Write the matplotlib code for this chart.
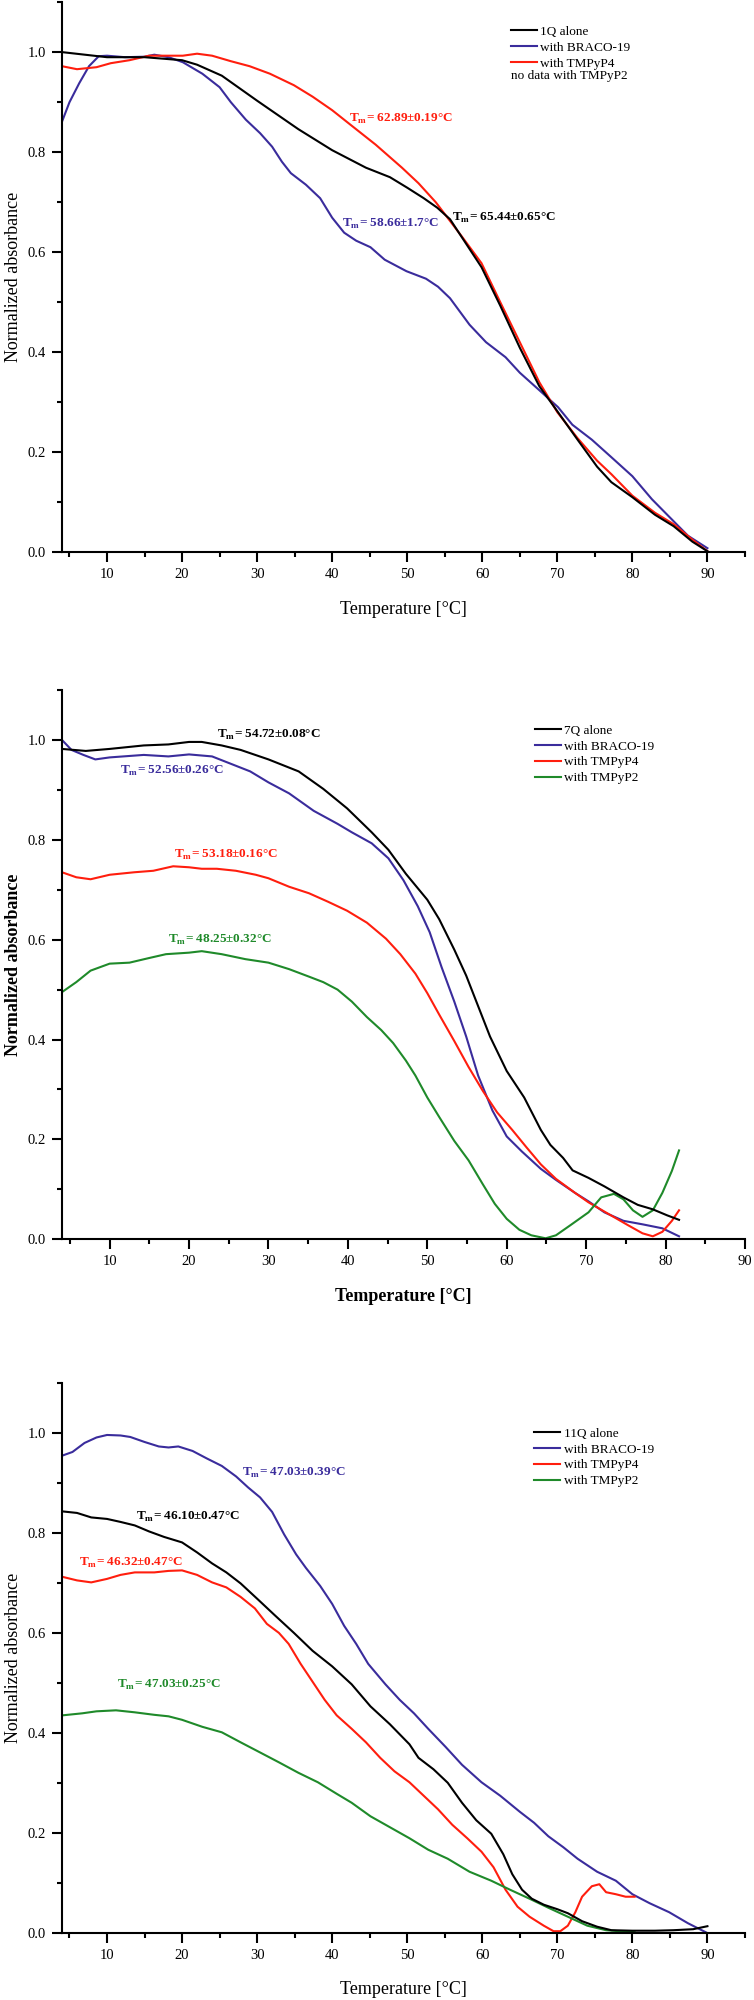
import matplotlib
matplotlib.use("Agg")
import matplotlib.pyplot as plt
from matplotlib.ticker import MultipleLocator

plt.rcParams["font.family"] = ["Liberation Serif", "DejaVu Serif"]
plt.rcParams["mathtext.fontset"] = "custom"
plt.rcParams["mathtext.rm"] = "Liberation Serif"
plt.rcParams["mathtext.bf"] = "Liberation Serif:bold"

C_BLACK = "#000000"
C_BLUE = "#3a2c9c"
C_RED = "#ff1e0e"
C_GREEN = "#1f8a2a"

# ── panel 1: 1Q ─────────────────────────────────────────────────────
q1_alone_t = [4.1, 10, 15, 20, 22, 25.3, 30, 35.5, 40, 44.5, 47.7, 50, 52.2, 54, 55.7,
              59.9, 62.4, 65, 67.6, 70, 72.7, 75.3, 77.2, 80, 83, 85.5, 88, 90]
q1_alone_v = [1.0, 0.99, 0.99, 0.984, 0.975, 0.953, 0.903, 0.846, 0.804, 0.769, 0.75, 0.729,
              0.708, 0.689, 0.666, 0.570, 0.493, 0.409, 0.332, 0.282, 0.225, 0.171, 0.14,
              0.11, 0.075, 0.052, 0.021, 0.002]
q1_braco_t = [4, 5, 6.3, 7.6, 8.9, 10, 12.4, 15, 16.3, 18.2, 20.1, 22.7, 25, 26.5, 28.5,
              30.4, 32, 33.3, 34.5, 36.5, 38.4, 40, 41.6, 43.2, 45.1, 47, 49.9, 52.5, 54.1,
              55.7, 58.3, 60.5, 63.1, 65, 67.6, 70.1, 72, 74.6, 77.2, 80, 82.6, 84.9, 87.4, 90]
q1_braco_v = [0.861, 0.90, 0.938, 0.972, 0.992, 0.993, 0.99, 0.991, 0.995, 0.99, 0.98, 0.957,
              0.93, 0.90, 0.865, 0.838, 0.811, 0.781, 0.758, 0.735, 0.708, 0.669, 0.639,
              0.623, 0.61, 0.585, 0.562, 0.547, 0.531, 0.508, 0.455, 0.42, 0.39, 0.359,
              0.324, 0.29, 0.255, 0.225, 0.19, 0.152, 0.106, 0.071, 0.033, 0.008]
q1_tmpyp4_t = [4, 6, 8.6, 10.5, 13, 15.6, 18.2, 20.1, 22, 24, 26.5, 29, 31.7, 34.9, 37.4,
               40, 42.6, 45.8, 49.3, 51.5, 53.8, 57.3, 59.9, 62.4, 65, 67.6, 70, 72.7, 75.3,
               77.2, 80, 83, 85.5, 88, 90]
q1_tmpyp4_v = [0.972, 0.966, 0.970, 0.978, 0.984, 0.993, 0.993, 0.993, 0.997, 0.993, 0.982,
               0.972, 0.957, 0.934, 0.911, 0.884, 0.853, 0.815, 0.769, 0.738, 0.70, 0.631,
               0.578, 0.50, 0.42, 0.34, 0.28, 0.228, 0.183, 0.156, 0.113, 0.079, 0.056,
               0.025, 0.002]

# ── panel 2: 7Q ─────────────────────────────────────────────────────
q7_alone_t = [4, 7, 10, 14.3, 17.4, 20, 21.6, 24.1, 26.5, 30, 33.8, 36.9, 39.9, 43, 45.1,
              47.3, 50, 51.5, 53.4, 54.9, 56.4, 57.9, 60, 62.2, 64.3, 65.5, 67.1, 68.3,
              70.3, 72.3, 74.7, 76.5, 78.4, 80.2, 81.7]
q7_alone_v = [0.982, 0.978, 0.982, 0.989, 0.991, 0.996, 0.996, 0.989, 0.98, 0.961, 0.937,
              0.902, 0.863, 0.815, 0.78, 0.732, 0.68, 0.641, 0.58, 0.528, 0.467, 0.406,
              0.337, 0.284, 0.219, 0.189, 0.163, 0.138, 0.123, 0.106, 0.084, 0.069, 0.06,
              0.048, 0.039]
q7_braco_t = [4, 5.2, 6.7, 8.2, 10, 14.3, 17.4, 20, 22.9, 25.3, 27.7, 30, 32.6, 35.7, 38.7,
              40.5, 43, 45.1, 47, 48.8, 50.3, 51.8, 53.4, 54.9, 56.4, 58.2, 60, 61.9, 64.3,
              66.2, 68.6, 70.3, 72.3, 74.7, 77.1, 79.6, 81.7]
q7_braco_v = [1.0, 0.98, 0.97, 0.961, 0.965, 0.97, 0.967, 0.971, 0.967, 0.952, 0.937, 0.915,
              0.893, 0.858, 0.832, 0.815, 0.793, 0.763, 0.719, 0.667, 0.615, 0.545, 0.476,
              0.406, 0.328, 0.258, 0.206, 0.176, 0.141, 0.119, 0.093, 0.076, 0.054, 0.037,
              0.03, 0.022, 0.006]
q7_tmpyp4_t = [4, 5.8, 7.6, 10, 13.1, 15.5, 18, 20, 21.6, 23.5, 25.9, 28.4, 30, 32.6, 35.1,
               37.5, 39.9, 42.4, 44.8, 46.6, 48.5, 50, 51.5, 53.4, 55.2, 57, 58.8, 60.7,
               62.5, 64.3, 66.2, 68.6, 70.3, 72.9, 75.3, 77.1, 78.4, 79.6, 80.8, 81.7]
q7_tmpyp4_v = [0.735, 0.725, 0.721, 0.73, 0.735, 0.738, 0.747, 0.745, 0.742, 0.742, 0.738,
               0.73, 0.723, 0.706, 0.693, 0.676, 0.658, 0.634, 0.602, 0.571, 0.532, 0.493,
               0.45, 0.397, 0.345, 0.297, 0.254, 0.219, 0.184, 0.15, 0.121, 0.093, 0.074,
               0.05, 0.028, 0.012, 0.006, 0.015, 0.037, 0.058]
q7_tmpyp2_t = [4, 5.8, 7.6, 10, 12.5, 14.9, 17.1, 20, 21.6, 24.1, 27.1, 30, 32.6, 35.1,
               36.9, 38.7, 40.5, 42.4, 44.2, 45.7, 47.3, 48.5, 50, 51.5, 53.4, 55.2, 57,
               58.5, 60, 61.6, 63.1, 64.9, 66.2, 68, 70.3, 71.9, 73.5, 74.7, 75.9, 77.1,
               78.4, 79.6, 80.8, 81.7]
q7_tmpyp2_v = [0.495, 0.515, 0.538, 0.552, 0.554, 0.563, 0.571, 0.574, 0.577, 0.571, 0.561,
               0.554, 0.541, 0.526, 0.515, 0.5, 0.476, 0.445, 0.419, 0.393, 0.358, 0.328,
               0.284, 0.245, 0.197, 0.158, 0.11, 0.071, 0.041, 0.019, 0.008, 0.002, 0.008,
               0.028, 0.054, 0.084, 0.091, 0.08, 0.058, 0.045, 0.058, 0.093, 0.137, 0.178]

# ── panel 3: 11Q ────────────────────────────────────────────────────
q11_alone_t = [4.1, 6, 7.9, 10, 11.8, 13.7, 15.6, 17.6, 20, 22, 24, 25.9, 27.8, 30.1, 32.3,
               34.9, 37.4, 40, 42.6, 45.1, 47.7, 50.3, 51.5, 53.5, 55.4, 57.3, 59.2, 61.2,
               62.8, 64, 65.3, 66.6, 68.2, 70, 71.4, 73.3, 75.3, 77.2, 80, 83, 85.5, 88.1, 90]
q11_alone_v = [0.843, 0.84, 0.831, 0.828, 0.822, 0.815, 0.803, 0.792, 0.781, 0.761, 0.739,
               0.721, 0.699, 0.667, 0.636, 0.6, 0.564, 0.533, 0.497, 0.453, 0.417, 0.377,
               0.35, 0.327, 0.3, 0.26, 0.225, 0.198, 0.157, 0.117, 0.086, 0.068, 0.056,
               0.047, 0.039, 0.023, 0.012, 0.005, 0.004, 0.004, 0.005, 0.007, 0.013]
q11_braco_t = [4.1, 5.4, 7, 8.6, 10, 11.8, 13.1, 15, 16.9, 18.2, 19.5, 21.4, 23.3, 25.3,
               27.2, 28.8, 30.4, 32, 33.6, 35.2, 36.5, 38.4, 40, 41.6, 43.2, 44.8, 47.1, 49,
               50.9, 52.8, 55.1, 57.3, 59.9, 62.4, 65, 66.9, 68.8, 70.8, 72.7, 75.3, 77.8,
               80, 82.3, 84.9, 87.4, 89.9]
q11_braco_v = [0.955, 0.962, 0.98, 0.991, 0.996, 0.995, 0.992, 0.982, 0.973, 0.971, 0.973,
               0.964, 0.949, 0.934, 0.913, 0.891, 0.871, 0.842, 0.797, 0.757, 0.73, 0.694,
               0.658, 0.614, 0.578, 0.538, 0.497, 0.466, 0.439, 0.408, 0.372, 0.336, 0.301,
               0.274, 0.242, 0.22, 0.193, 0.171, 0.148, 0.122, 0.104, 0.077, 0.059, 0.041,
               0.019, 0.0]
q11_tmpyp4_t = [4.1, 6, 7.9, 10, 11.8, 13.7, 16.3, 18.2, 20, 22, 24, 25.9, 27.8, 29.7, 31.3,
                32.9, 34.2, 35.8, 37.4, 39, 40.6, 42.6, 44.5, 46.4, 48.3, 50.3, 52.2, 54.1,
                56, 58, 59.9, 61.5, 63.1, 64.7, 66.3, 68.2, 69.5, 70.4, 71.4, 72.4, 73.3,
                74.6, 75.6, 76.5, 77.8, 79.1, 80.3]
q11_tmpyp4_v = [0.712, 0.705, 0.701, 0.708, 0.716, 0.721, 0.721, 0.724, 0.725, 0.716, 0.701,
                0.691, 0.672, 0.649, 0.618, 0.6, 0.578, 0.538, 0.502, 0.466, 0.435, 0.408,
                0.381, 0.35, 0.323, 0.301, 0.274, 0.247, 0.216, 0.189, 0.162, 0.131, 0.086,
                0.052, 0.032, 0.014, 0.003, 0.003, 0.014, 0.041, 0.072, 0.093, 0.097, 0.081,
                0.077, 0.072, 0.072]
q11_tmpyp2_t = [4.1, 6.7, 8.6, 11.2, 13.7, 16.3, 18.2, 20, 22.7, 25.3, 27.8, 30.1, 32.9,
                35.5, 38.1, 40.6, 42.6, 45.1, 47.7, 50.3, 52.8, 55.4, 58.3, 61.2, 63.7,
                66.3, 68.8, 71.4, 74, 76.5, 79.1, 80.3]
q11_tmpyp2_v = [0.435, 0.439, 0.443, 0.445, 0.441, 0.436, 0.433, 0.426, 0.412, 0.401, 0.381,
                0.363, 0.341, 0.32, 0.301, 0.278, 0.26, 0.233, 0.211, 0.189, 0.166, 0.148,
                0.122, 0.104, 0.086, 0.068, 0.05, 0.032, 0.014, 0.005, 0.002, 0.001]

# Tm annotations: (text value, x, y, colour)
q1_notes = [("62.89±0.19", 42.2, 0.867, C_RED),
            ("58.66±1.7", 41.3, 0.656, C_BLUE),
            ("65.44±0.65", 56.0, 0.668, C_BLACK)]
q7_notes = [("54.72±0.08", 23.5, 1.010, C_BLACK),
            ("52.56±0.26", 11.3, 0.937, C_BLUE),
            ("53.18±0.16", 18.1, 0.770, C_RED),
            ("48.25±0.32", 17.4, 0.600, C_GREEN)]
q11_notes = [("47.03±0.39", 28.0, 0.920, C_BLUE),
             ("46.10±0.47", 13.9, 0.831, C_BLACK),
             ("46.32±0.47", 6.3, 0.740, C_RED),
             ("47.03±0.25", 11.3, 0.495, C_GREEN)]


def style_axes(ax, xmax, bold):
    weight = "bold" if bold else "normal"
    ax.set_xlim(4, xmax)
    ax.set_ylim(0, 1.1)
    for s in ("top", "right"):
        ax.spines[s].set_visible(False)
    for s in ("left", "bottom"):
        ax.spines[s].set_linewidth(1.5)
    ax.xaxis.set_major_locator(MultipleLocator(10))
    ax.xaxis.set_minor_locator(MultipleLocator(5))
    ax.yaxis.set_major_locator(MultipleLocator(0.2))
    ax.yaxis.set_minor_locator(MultipleLocator(0.1))
    ax.yaxis.set_major_formatter(matplotlib.ticker.FormatStrFormatter("%.1f"))
    ax.tick_params(which="major", direction="out", length=7.5, width=1.5,
                   labelsize=10.5, pad=4)
    ax.tick_params(which="minor", direction="out", length=3.5, width=1.5)
    ax.set_xlabel("Temperature [°C]", fontsize=13, fontweight=weight, labelpad=14)
    ax.set_ylabel("Normalized absorbance", fontsize=13, fontweight=weight, labelpad=4)


def add_notes(ax, notes):
    for val, x, y, c in notes:
        ax.text(x, y, r"T$_{\mathbf{m}}$= " + val + "°C", color=c, fontsize=9.5,
                fontweight="bold", ha="left", va="center")


def add_legend(ax, x, y):
    ax.legend(loc="upper left", bbox_to_anchor=(x, y), frameon=False, fontsize=9.5,
              handlelength=2.0, handletextpad=0.25, labelspacing=0.27, borderpad=0,
              borderaxespad=0)


fig = plt.figure(figsize=(7.54, 20), dpi=100)

# panel 1
ax1 = fig.add_axes([0.0822, 0.7239, 0.9058, 0.2750])
ax1.plot(q1_alone_t, q1_alone_v, color=C_BLACK, lw=1.5, label="1Q alone", zorder=3)
ax1.plot(q1_braco_t, q1_braco_v, color=C_BLUE, lw=1.5, label="with BRACO-19", zorder=2)
ax1.plot(q1_tmpyp4_t, q1_tmpyp4_v, color=C_RED, lw=1.5, label="with TMPyP4", zorder=2)
style_axes(ax1, 95, False)
add_notes(ax1, q1_notes)
add_legend(ax1, 0.657, 0.957)
ax1.text(0.657, 0.865, "no data with TMPyP2", transform=ax1.transAxes, fontsize=9.5,
         ha="left", va="center")

# panel 2
ax2 = fig.add_axes([0.0822, 0.38035, 0.9058, 0.27465])
ax2.plot(q7_alone_t, q7_alone_v, color=C_BLACK, lw=1.5, label="7Q alone", zorder=3)
ax2.plot(q7_braco_t, q7_braco_v, color=C_BLUE, lw=1.5, label="with BRACO-19")
ax2.plot(q7_tmpyp4_t, q7_tmpyp4_v, color=C_RED, lw=1.5, label="with TMPyP4")
ax2.plot(q7_tmpyp2_t, q7_tmpyp2_v, color=C_GREEN, lw=1.5, label="with TMPyP2")
style_axes(ax2, 90, True)
add_notes(ax2, q7_notes)
add_legend(ax2, 0.692, 0.937)

# panel 3
ax3 = fig.add_axes([0.0822, 0.03365, 0.9058, 0.27485])
ax3.plot(q11_alone_t, q11_alone_v, color=C_BLACK, lw=1.5, label="11Q alone", zorder=3)
ax3.plot(q11_braco_t, q11_braco_v, color=C_BLUE, lw=1.5, label="with BRACO-19")
ax3.plot(q11_tmpyp4_t, q11_tmpyp4_v, color=C_RED, lw=1.5, label="with TMPyP4")
ax3.plot(q11_tmpyp2_t, q11_tmpyp2_v, color=C_GREEN, lw=1.5, label="with TMPyP2")
style_axes(ax3, 95, False)
add_notes(ax3, q11_notes)
add_legend(ax3, 0.691, 0.919)

fig.savefig("out.png", dpi=100)
print("saved out.png")
